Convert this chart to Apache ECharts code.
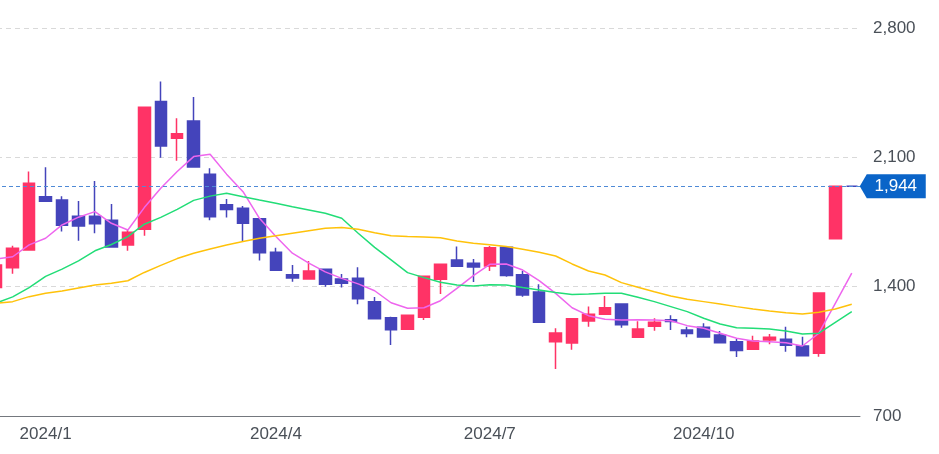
<!DOCTYPE html>
<html>
<head>
<meta charset="utf-8">
<script src="https://cdn.jsdelivr.net/npm/echarts@6/dist/echarts.min.js"></script>
<style>
html,body{margin:0;padding:0;background:#fff;overflow:hidden;width:939px;height:454px;position:relative;}
#chart{position:absolute;left:-12px;top:0;width:951px;height:454px;}
</style>
</head>
<body>
<div id="chart"></div>
<script>
// Weekly categories (first one is only partly visible at the left edge)
const categories = [
 '2023/12/11','2023/12/18','2023/12/25','2024/01/01','2024/01/08','2024/01/15','2024/01/22','2024/01/29',
 '2024/02/05','2024/02/12','2024/02/19','2024/02/26','2024/03/04','2024/03/11','2024/03/18','2024/03/25',
 '2024/04/01','2024/04/08','2024/04/15','2024/04/22','2024/04/29','2024/05/06','2024/05/13','2024/05/20',
 '2024/05/27','2024/06/03','2024/06/10','2024/06/17','2024/06/24','2024/07/01','2024/07/08','2024/07/15',
 '2024/07/22','2024/07/29','2024/08/05','2024/08/12','2024/08/19','2024/08/26','2024/09/02','2024/09/09',
 '2024/09/16','2024/09/23','2024/09/30','2024/10/07','2024/10/14','2024/10/21','2024/10/28','2024/11/04',
 '2024/11/11','2024/11/18','2024/11/25','2024/12/02','2024/12/09'
];
// x tick labels aligned with categories
const tickLabels = [
 '','','','2024/1','','','','',
 '','','','','','','','',
 '','2024/4','','','','','','',
 '','','','','','','2024/7','',
 '','','','','','','','',
 '','','','2024/10','','','','',
 '','','','',''
];
// [open, close, low, high]
const ohlc = [
 [1395,1517,1380,1530],
 [1503,1608,1470,1622],
 [1599,1960,1595,2023],
 [1887,1862,1860,2046],
 [1869,1732,1698,1889],
 [1781,1729,1649,1864],
 [1781,1741,1689,1972],
 [1760,1615,1612,1848],
 [1626,1695,1595,1712],
 [1711,2371,1676,2371],
 [2402,2162,2098,2510],
 [2203,2228,2081,2312],
 [2297,2048,2048,2427],
 [2009,1779,1760,2041],
 [1844,1817,1774,1875],
 [1824,1743,1647,1837],
 [1768,1584,1541,1768],
 [1586,1489,1489,1610],
 [1465,1447,1427,1517],
 [1442,1485,1442,1539],
 [1494,1413,1400,1494],
 [1442,1418,1395,1469],
 [1445,1335,1305,1505],
 [1319,1227,1227,1344],
 [1232,1167,1084,1237],
 [1169,1245,1169,1245],
 [1234,1456,1220,1456],
 [1440,1521,1360,1521],
 [1545,1510,1510,1617],
 [1527,1507,1425,1550],
 [1512,1611,1485,1620],
 [1613,1460,1454,1613],
 [1465,1355,1346,1485],
 [1371,1207,1207,1413],
 [1102,1149,954,1175],
 [1095,1227,1059,1227],
 [1214,1251,1183,1292],
 [1251,1286,1251,1350],
 [1306,1194,1178,1310],
 [1126,1171,1126,1213],
 [1186,1207,1162,1229],
 [1221,1211,1166,1245],
 [1166,1146,1126,1183],
 [1180,1128,1128,1202],
 [1139,1097,1097,1160],
 [1102,1054,1019,1117],
 [1061,1106,1061,1135],
 [1111,1126,1088,1144],
 [1115,1083,1048,1183],
 [1079,1026,1026,1129],
 [1039,1366,1021,1366],
 [1660,1944,1660,1944],
 [1944,1944,1944,1944]
];
const maShort = [1550,1562,1626,1662,1734,1776,1806,1743,1707,1828,1933,2023,2104,2117,2009,1914,1770,1671,1581,1527,1480,1445,1415,1378,1313,1283,1286,1324,1391,1460,1521,1523,1490,1433,1364,1286,1243,1224,1220,1221,1220,1216,1189,1175,1148,1121,1106,1102,1097,1079,1148,1310,1473];
const maMid = [1312,1345,1395,1456,1495,1540,1594,1628,1671,1738,1775,1818,1867,1890,1906,1887,1869,1852,1833,1815,1797,1770,1689,1613,1545,1476,1449,1424,1409,1404,1411,1409,1395,1382,1368,1357,1360,1364,1364,1343,1319,1292,1265,1229,1198,1178,1175,1171,1160,1144,1148,1207,1265];
const maLong = [1310,1319,1346,1364,1377,1393,1409,1418,1432,1477,1515,1552,1581,1604,1626,1644,1662,1675,1689,1703,1716,1720,1711,1692,1675,1671,1669,1665,1647,1635,1627,1617,1602,1586,1566,1523,1485,1463,1422,1397,1373,1350,1332,1319,1306,1292,1279,1268,1259,1252,1261,1279,1305];
const lastPrice = 1944;
const yTicks = {min:700, max:2800, step:700};

const UP = '#ff3366', DOWN = '#4444bb';
const candleData = ohlc.map((d, i) => {
  if (i === ohlc.length - 1 && d[0] === d[1]) {
    return {value: d, itemStyle: {color: DOWN, borderColor: DOWN}};
  }
  return d;
});

const chart = echarts.init(document.getElementById('chart'), null, {renderer: 'canvas'});
const font = '"Liberation Sans", Arial, sans-serif';
chart.setOption({
  animation: false,
  grid: {left: 0, right: 79, top: 28, bottom: 38, containLabel: false},
  xAxis: {
    type: 'category',
    data: categories,
    boundaryGap: true,
    axisLine: {lineStyle: {color: '#74787e', width: 1}},
    axisTick: {show: false},
    axisLabel: {
      interval: 0,
      formatter: (v, i) => tickLabels[i],
      color: '#4a5058', fontSize: 17, fontFamily: font, margin: 10
    },
    splitLine: {show: false}
  },
  yAxis: {
    type: 'value',
    position: 'right',
    min: yTicks.min, max: yTicks.max, interval: yTicks.step,
    axisLine: {show: false},
    axisTick: {show: false},
    axisLabel: {
      formatter: v => v.toLocaleString('en-US'),
      color: '#4a5058', fontSize: 17, fontFamily: font, margin: 13
    },
    splitLine: {lineStyle: {color: '#d9d9d9', type: [5, 4], width: 1}}
  },
  series: [
    {
      type: 'candlestick',
      data: candleData,
      barWidth: 12,
      clip: false,
      itemStyle: {color: UP, color0: DOWN, borderColor: UP, borderColor0: DOWN, borderWidth: 1.5},
      markLine: {
        silent: true,
        symbol: 'none',
        label: {show: false},
        lineStyle: {color: '#4f8ad6', type: [4, 3], width: 1},
        data: [{yAxis: lastPrice}]
      },
      markPoint: {
        silent: true,
        symbol: 'path://M0,12 L7,0 L66,0 L66,24 L7,24 Z',
        symbolSize: [66, 24],
        symbolKeepAspect: false,
        symbolOffset: [41, 0],
        itemStyle: {color: '#0a64c8'},
        label: {
          show: true,
          formatter: () => lastPrice.toLocaleString('en-US'),
          color: '#ffffff', fontSize: 17, fontFamily: font, offset: [3, 0]
        },
        data: [{coord: [categories[categories.length - 1], lastPrice]}]
      }
    },
    {type: 'line', data: maShort, symbol: 'none', smooth: false, lineStyle: {color: '#ee66ee', width: 1.5}},
    {type: 'line', data: maMid, symbol: 'none', smooth: false, lineStyle: {color: '#22dd77', width: 1.5}},
    {type: 'line', data: maLong, symbol: 'none', smooth: false, lineStyle: {color: '#ffc20a', width: 1.5}}
  ]
});
</script>
</body>
</html>
